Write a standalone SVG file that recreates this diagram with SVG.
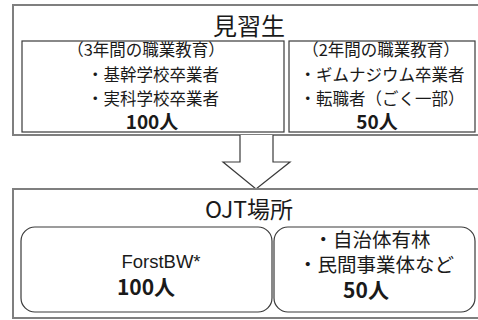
<svg xmlns="http://www.w3.org/2000/svg" width="478" height="320" viewBox="0 0 478 320">
<style>
.outer{fill:none;stroke:#7f7f7f;stroke-width:2}
.inner{fill:#fff;stroke:#3a3a3a;stroke-width:1.2}
.t{font-family:"Noto Sans CJK JP","Noto Sans",sans-serif;fill:#1a1a1a;text-anchor:middle}
.b{font-weight:bold}
</style>
<rect width="478" height="320" fill="#fff"/>
<g id="trainees">
<path class="outer" d="M480 5 H13 V135 H480"/>
<text class="t" x="249" y="35" font-size="24">見習生</text>
</g>
<g id="group3yr">
<rect class="inner" x="22" y="41" width="262" height="91"/>
<text class="t" x="146" y="56" font-size="16.5">（3年間の職業教育）</text>
<text class="t" x="153" y="81" font-size="16.5">・基幹学校卒業者</text>
<text class="t" x="153" y="105" font-size="16.5">・実科学校卒業者</text>
<text class="t b" x="152" y="129" font-size="19">100人</text>
</g>
<g id="group2yr">
<rect class="inner" x="289" y="41" width="186" height="91"/>
<text class="t" x="381" y="56" font-size="16.5">（2年間の職業教育）</text>
<text class="t" x="382" y="81" font-size="16.5">・ギムナジウム卒業者</text>
<text class="t" x="382" y="105" font-size="16.5">・転職者（ごく一部）</text>
<text class="t b" x="377" y="129" font-size="19">50人</text>
</g>
<g id="connectors">
<path d="M240 135 V162 H223 L256 189 L290 162 H273 V135" fill="#fff" stroke="#3a3a3a" stroke-width="1.2"/>
</g>
<g id="ojt">
<path class="outer" d="M480 189 H13 V318 H480"/>
<text class="t" x="249" y="218" font-size="23">OJT場所</text>
</g>
<g id="forstbw">
<rect class="inner" x="21" y="227" width="251" height="85" rx="14"/>
<text x="161" y="268" font-size="18.5" font-family="'Liberation Sans',Arial,sans-serif" fill="#1a1a1a" text-anchor="middle">ForstBW*</text>
<text class="t b" x="146" y="295" font-size="21">100人</text>
</g>
<g id="others">
<rect class="inner" x="274" y="227" width="201" height="85" rx="14"/>
<text class="t" x="372" y="247" font-size="19.5">・自治体有林</text>
<text class="t" x="376" y="272" font-size="19.5">・民間事業体など</text>
<text class="t b" x="366" y="298" font-size="21">50人</text>
</g>
</svg>
